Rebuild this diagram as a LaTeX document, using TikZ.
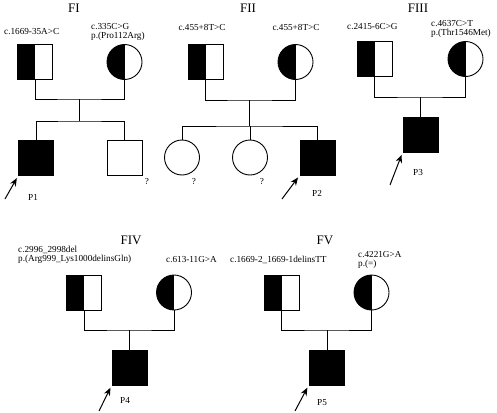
\documentclass[tikz,border=0pt]{standalone}
\usepackage{fontspec}
\setmainfont{Liberation Serif}
\usetikzlibrary{arrows.meta}
\tikzset{
	male/.style={draw,rectangle,minimum size=35pt,inner sep=0pt,line width=0.9pt},
	female/.style={draw,circle,minimum size=35pt,inner sep=0pt,line width=0.9pt},
	carrier/.style={path picture={\fill[black] (path picture bounding box.south west) rectangle (path picture bounding box.north);}},
	affected/.style={fill=black},
	lab/.style={inner sep=0pt,font=\fontsize{9.2}{8.8}\selectfont,align=left},
	fam/.style={inner sep=0pt,font=\fontsize{13}{13}\selectfont},
	line/.style={line width=0.9pt},
	proband/.style={-{Stealth[length=8pt,width=6.5pt]},line width=1pt,shorten >=2.5pt}
}
\begin{document}
\begin{tikzpicture}[x=1pt,y=-1pt]
		\useasboundingbox (0,0) rectangle (497,412);
		\node[fam] (t1) at (74,8) {FI};
		\node[fam] (t2) at (248,8) {FII};
		\node[fam] (t3) at (418,8) {FIII};
		\node[fam] (t4) at (131,240) {FIV};
		\node[fam] (t5) at (325,240) {FV};
		\node[male,carrier] (f1) at (35,62) {};
		\node[female,carrier] (m1) at (124.5,62) {};
		\node[male,affected] (p1) at (36,158) {};
		\node[male] (s1) at (124.5,158) {};
		\node[male,carrier] (f2) at (205.5,62) {};
		\node[female,carrier] (m2) at (295.5,62) {};
		\node[female] (d2a) at (182,157.5) {};
		\node[female] (d2b) at (250,157.5) {};
		\node[male,affected] (p2) at (317.5,157.5) {};
		\node[male,carrier] (f3) at (374.5,59) {};
		\node[female,carrier] (m3) at (465.5,59) {};
		\node[male,affected] (p3) at (420.5,134.5) {};
		\node[male,carrier] (f4) at (84,292.5) {};
		\node[female,carrier] (m4) at (174,292.5) {};
		\node[male,affected] (p4) at (129.5,367.5) {};
		\node[male,carrier] (f5) at (281.5,292.5) {};
		\node[female,carrier] (m5) at (371.5,292.5) {};
		\node[male,affected] (p5) at (326.5,367.5) {};
		\node[lab,anchor=west] (lf1) at (4,32) {c.1669-35A>C};
		\node[lab,anchor=north west] (lm1) at (91,23) {c.335C>G\\p.(Pro112Arg)};
		\node[lab] (lf2) at (202,28) {c.455+8T>C};
		\node[lab] (lm2) at (296,28) {c.455+8T>C};
		\node[lab,anchor=west] (lf3) at (347,27) {c.2415-6C>G};
		\node[lab,anchor=north west] (lm3) at (431,20) {c.4637C>T\\p.(Thr1546Met)};
		\node[lab,anchor=north west] (lf4) at (18,246) {c.2996\_2998del\\p.(Arg999\_Lys1000delinsGln)};
		\node[lab,anchor=west] (lm4) at (166,260) {c.613-11G>A};
		\node[lab,anchor=west] (lf5) at (230,260) {c.1669-2\_1669-1delinsTT};
		\node[lab,anchor=north west] (lm5) at (358,251) {c.4221G>A\\p.(=)};
		\node[lab] (q1) at (147,182) {?};
		\node[lab] (q2) at (194,182) {?};
		\node[lab] (q3) at (262,182) {?};
		\node[lab] (n1) at (33,197) {P1};
		\node[lab] (n2) at (317,193) {P2};
		\node[lab] (n3) at (418,172) {P3};
		\node[lab] (n4) at (125,400) {P4};
		\node[lab] (n5) at (322,403) {P5};
		\coordinate (u1) at (79,99);
		\coordinate (v1) at (79,121);
		\coordinate (u2) at (249,100);
		\coordinate (v2) at (249,126);
		\coordinate (u3) at (420,97);
		\coordinate (u4) at (129,330);
		\coordinate (u5) at (327,330);
		\draw[line] (f1.south) |- (u1) -| (m1.south);
		\draw[line] (u1) -- (v1);
		\draw[line] (p1.north) |- (v1) -| (s1.north);
		\draw[line] (f2.south) |- (u2) -| (m2.south);
		\draw[line] (u2) -- (v2);
		\draw[line] (d2a.north) |- (v2) -| (p2.north);
		\draw[line] (d2b.north) -- (d2b.north |- v2);
		\draw[line] (f3.south) |- (u3) -| (m3.south);
		\draw[line] (u3) -- (u3 |- p3.north);
		\draw[line] (f4.south) |- (u4) -| (m4.south);
		\draw[line] (u4) -- (u4 |- p4.north);
		\draw[line] (f5.south) |- (u5) -| (m5.south);
		\draw[line] (u5) -- (u5 |- p5.north);
		\coordinate (a1) at (5,199);
		\coordinate (a2) at (282,199);
		\coordinate (a3) at (390,185);
		\coordinate (a4) at (99,411);
		\coordinate (a5) at (295,411);
		\draw[proband] (a1) -- (p1.south west);
		\draw[proband] (a2) -- (p2.south west);
		\draw[proband] (a3) -- (p3.south west);
		\draw[proband] (a4) -- (p4.south west);
		\draw[proband] (a5) -- (p5.south west);
	\end{tikzpicture}
\end{document}
